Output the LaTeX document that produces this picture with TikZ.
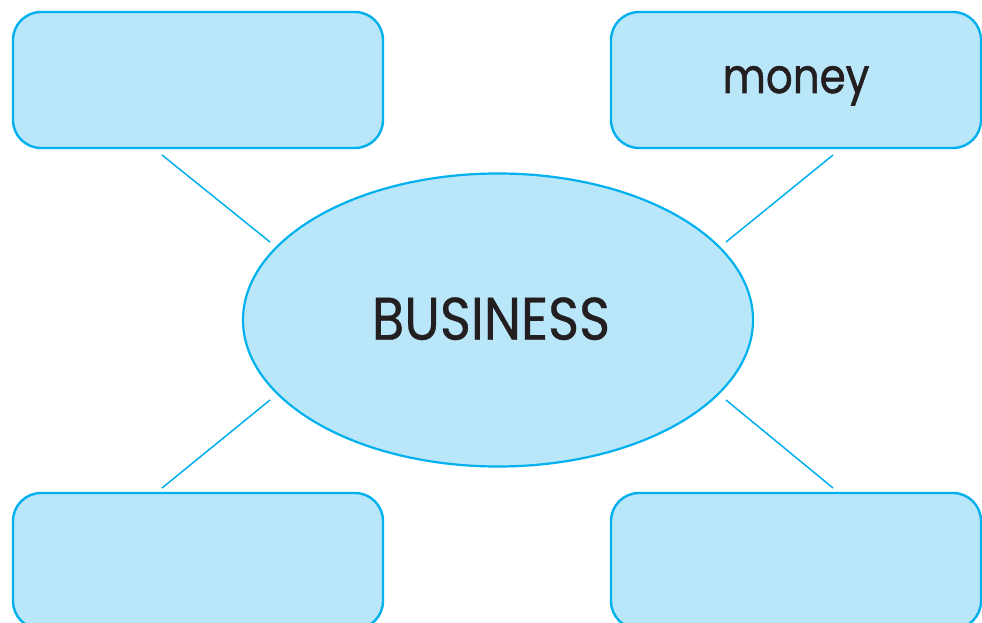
\documentclass[tikz,border=0pt]{standalone}
\usepackage{fontspec}
\setmainfont{Poppins}
\usetikzlibrary{shapes.geometric}
\definecolor{boxfill}{HTML}{B9E6F9}
\definecolor{boxline}{HTML}{00B0EF}
\definecolor{txt}{HTML}{231F20}
\tikzset{
  card/.style={draw=boxline, fill=boxfill, line width=2.4pt, rounded corners=28pt,
    minimum width=370pt, minimum height=136pt, inner sep=0pt, text=txt},
  hub/.style={ellipse, draw=boxline, fill=boxfill, line width=2.2pt,
    minimum width=510pt, minimum height=293pt, inner sep=0pt, text=txt},
  link/.style={draw=boxline, line width=1.5pt}
}
\begin{document}
\begin{tikzpicture}[x=1pt,y=-1pt]
\useasboundingbox (0,0) rectangle (982,623);
\node[card] (tl) at (198,80) {};
\node[card] (tr) at (796,80) {\raisebox{-13pt}[0pt][0pt]{\scalebox{1}[1.15]{\fontsize{42}{48}\selectfont\addfontfeature{FakeBold=1.2}money}}};
\node[card] (bl) at (198,561) {};
\node[card] (br) at (796,561) {};
\node[hub] (c) at (498,320) {\hspace*{-14pt}\raisebox{3pt}{\scalebox{0.88}[1]{\fontsize{60}{66}\selectfont\addfontfeature{FakeBold=0.6}BUSINESS}}};
\coordinate (tlA) at (162,155); \coordinate (tlB) at (270,242);
\coordinate (trA) at (833,155); \coordinate (trB) at (726,242);
\coordinate (blA) at (162,488); \coordinate (blB) at (270,400);
\coordinate (brA) at (833,488); \coordinate (brB) at (726,400);
\draw[link] (tlA) -- (tlB);
\draw[link] (trA) -- (trB);
\draw[link] (blA) -- (blB);
\draw[link] (brA) -- (brB);
\end{tikzpicture}
\end{document}
